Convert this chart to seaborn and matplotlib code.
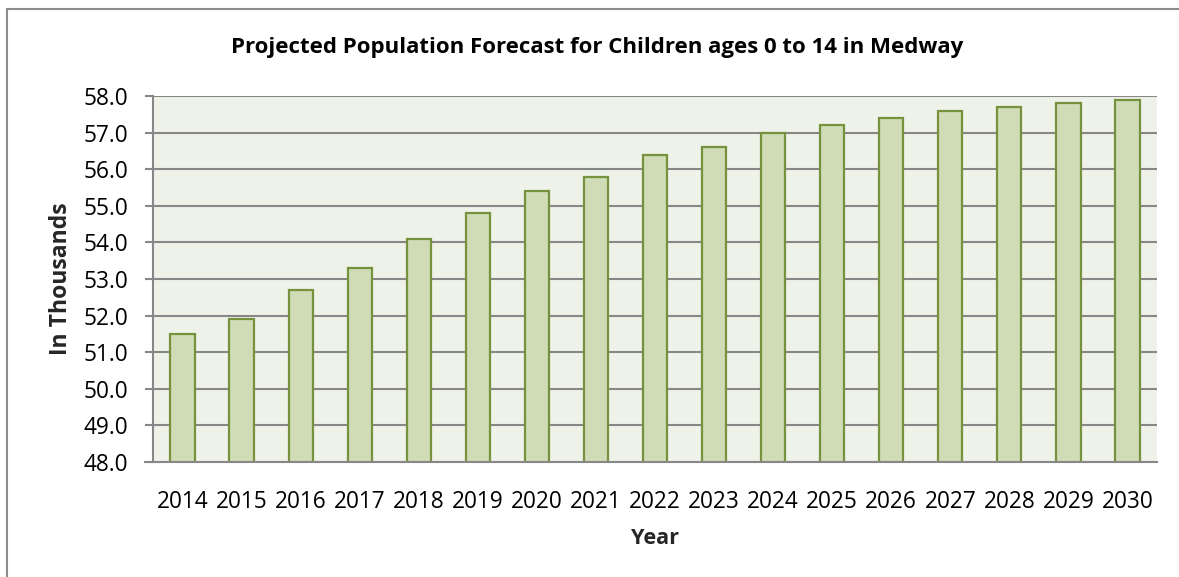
import matplotlib
matplotlib.use("Agg")
import matplotlib.pyplot as plt
import seaborn as sns
import pandas as pd
from matplotlib.lines import Line2D

# Projected number of children aged 0-14 in Medway (thousands)
years = ["2014", "2015", "2016", "2017", "2018", "2019", "2020", "2021", "2022",
         "2023", "2024", "2025", "2026", "2027", "2028", "2029", "2030"]
population = [51.5, 51.9, 52.7, 53.3, 54.1, 54.8, 55.4, 55.8, 56.4,
              56.6, 57.0, 57.2, 57.4, 57.6, 57.7, 57.8, 57.9]
y_ticks = [48.0, 49.0, 50.0, 51.0, 52.0, 53.0, 54.0, 55.0, 56.0, 57.0, 58.0]

df = pd.DataFrame({"Year": years, "Population": population})

sns.set_theme(style="white")
plt.rcParams["font.family"] = ["Open Sans", "DejaVu Sans"]

W, H = 1179, 577
fig = plt.figure(figsize=(W / 100, H / 100), dpi=100)
ax = fig.add_axes([153 / W, 1 - 462 / H, (1157 - 153) / W, (462 - 96) / H])
ax.set_facecolor("#EFF2E8")

grid_c = "#878787"
ax.set_ylim(48, 58)
ax.set_yticks(y_ticks)
ax.set_yticklabels([f"{v:.1f}" for v in y_ticks], fontsize=16.3, color="black")
for v in y_ticks[1:]:
    ax.axhline(v, color=grid_c, lw=1.5, zorder=0.5)

sns.barplot(data=df, x="Year", y="Population", ax=ax, width=0.41,
            color="#CFDCB6", edgecolor="#76923C", linewidth=1.6,
            saturation=1, zorder=2)

ax.tick_params(axis="y", which="major", left=True, length=6, width=1.5,
               color=grid_c, pad=12)
ax.tick_params(axis="x", bottom=False, labelsize=16.3, pad=14)
for lbl in ax.get_xticklabels():
    lbl.set_color("black")

for side in ("top", "right"):
    ax.spines[side].set_visible(False)
for side in ("left", "bottom"):
    ax.spines[side].set_color(grid_c)
    ax.spines[side].set_linewidth(1.5)
    ax.spines[side].set_zorder(3)
ax.spines["bottom"].set_bounds(-0.5 - 8 / 59, 16.5)

ax.set_xlabel("Year", fontsize=15.6, fontweight="bold", labelpad=10)
ax.set_ylabel("In Thousands", fontsize=16.5, fontweight="bold", labelpad=7.5)

fig.text(597 / W, 1 - 47 / H,
         "Projected Population Forecast for Children ages 0 to 14 in Medway",
         ha="center", va="center", fontsize=16, fontweight="bold", color="black")

# chart-area frame (left and top edges)
fig.add_artist(Line2D([7 / W, 7 / W], [0, 1 - 9 / H], transform=fig.transFigure,
                      color="#8C8C8C", lw=1.5))
fig.add_artist(Line2D([7 / W, 1], [1 - 9 / H, 1 - 9 / H], transform=fig.transFigure,
                      color="#8C8C8C", lw=1.5))

fig.savefig("out.png", dpi=100, facecolor="white")
